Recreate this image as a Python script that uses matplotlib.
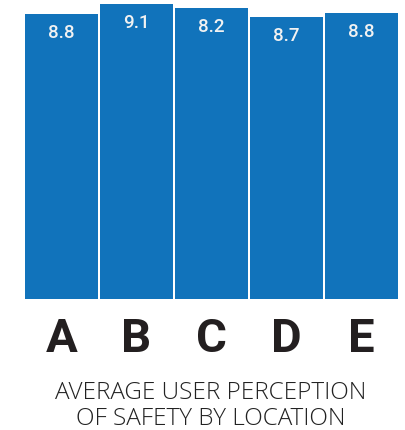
import matplotlib
matplotlib.use("Agg")
from matplotlib import pyplot as plt

locations = ["A", "B", "C", "D", "E"]
# drawn bar heights as they appear in the picture
bar_heights = [8.8, 9.1, 8.98, 8.7, 8.83]
# printed labels
value_labels = ["8.8", "9.1", "8.2", "8.7", "8.8"]
title = "AVERAGE USER PERCEPTION\nOF SAFETY BY LOCATION"

W, H = 405, 430
fig = plt.figure(figsize=(W / 100, H / 100), dpi=100)
ax = fig.add_axes([24 / W, (H - 299) / H, 375 / W, 295 / H])

x = range(len(locations))
ax.bar(x, bar_heights, width=0.975, color="#1173bb")
ax.set_xlim(-0.5, len(locations) - 0.5)
ax.set_ylim(0, max(bar_heights))
ax.axis("off")

px_per_unit = 295 / max(bar_heights)
for i, (h, lab) in enumerate(zip(bar_heights, value_labels)):
    ax.text(i, h - 19 / px_per_unit, lab, ha="center", va="center",
            fontsize=13.5, fontfamily="Roboto", fontweight="medium", color="#f2f2f2")

for i, loc in enumerate(locations):
    fig.text((24 + 75 * i + 37.5) / W, (H - 352) / H, loc, ha="center", va="baseline",
             fontsize=34, fontfamily="Roboto", fontweight="bold", color="#231f20")

lines = title.split("\n")
fig.text(211 / W, (H - 399) / H, lines[0], ha="center", va="baseline",
         fontsize=17.5, fontfamily="Open Sans", fontweight="light", color="#222222")
fig.text(211 / W, (H - 425) / H, lines[1], ha="center", va="baseline",
         fontsize=17.5, fontfamily="Open Sans", fontweight="light", color="#222222")

fig.savefig("out.png", dpi=100)
